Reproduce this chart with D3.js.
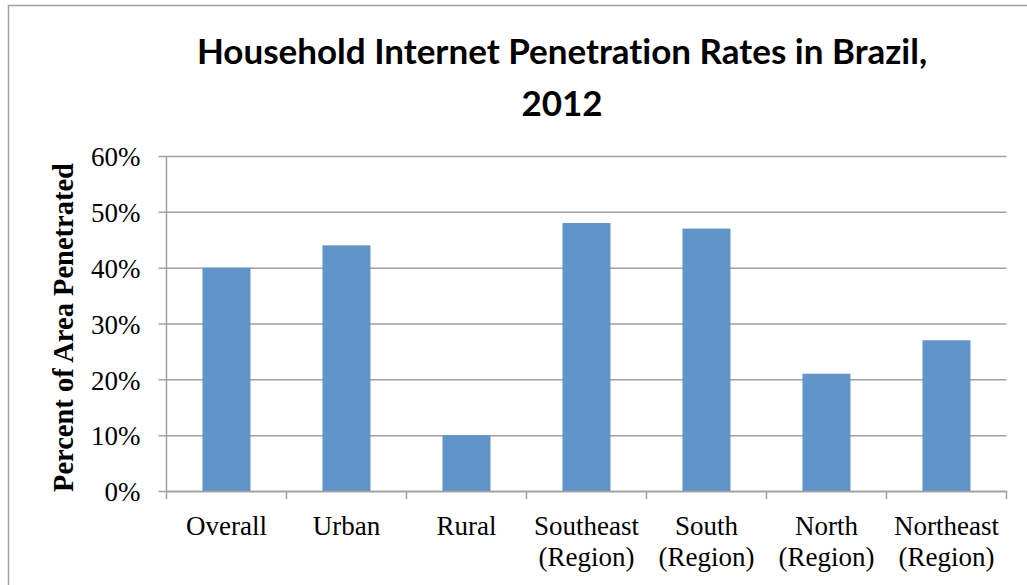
<!DOCTYPE html>
<html>
<head>
<meta charset="utf-8">
<script src="https://cdn.jsdelivr.net/npm/d3@7"></script>
<style>
  body { margin: 0; background: #fff; }
</style>
</head>
<body>
<div class="canvas"></div>
<script>
// chart data
const categories = ['Overall', 'Urban', 'Rural', 'Southeast\n(Region)', 'South\n(Region)', 'North\n(Region)', 'Northeast\n(Region)'];
const values = [0.40, 0.44, 0.10, 0.48, 0.47, 0.21, 0.27];
const yTicks = [0, 0.1, 0.2, 0.3, 0.4, 0.5, 0.6];
const titleLines = ['Household Internet Penetration Rates in Brazil,', '2012'];
const yTitle = 'Percent of Area Penetrated';

const dims = { width: 1027, height: 585 };
const plot = { left: 166.5, top: 156, right: 1006.5, bottom: 491 };

const gridColor = '#a0a0a0';
const serif = '"Liberation Serif", "Times New Roman", serif';

const svg = d3.select('.canvas')
  .append('svg')
  .attr('width', dims.width)
  .attr('height', dims.height);

// outer frame (runs off the right / bottom edge like the source)
svg.append('rect')
  .attr('x', 8.5).attr('y', 5.5)
  .attr('width', 1040).attr('height', 620)
  .attr('fill', '#fff')
  .attr('stroke', gridColor)
  .attr('stroke-width', 1.5);

const x = d3.scaleBand()
  .domain(categories)
  .range([plot.left, plot.right])
  .paddingInner(0.6)
  .paddingOuter(0.3);

const y = d3.scaleLinear()
  .domain([0, 0.6])
  .range([plot.bottom, plot.top]);

// y axis + gridlines
const yAxis = svg.append('g')
  .attr('transform', `translate(${plot.left},0)`)
  .call(d3.axisLeft(y).tickValues(yTicks).tickFormat(d3.format('.0%')).tickSize(8).tickPadding(18));

yAxis.select('.domain').remove();
yAxis.selectAll('.tick line')
  .attr('x1', plot.right - plot.left)
  .attr('stroke', gridColor)
  .attr('stroke-width', 1.5);
yAxis.selectAll('.tick text')
  .attr('font-family', serif)
  .attr('font-size', 27)
  .attr('fill', '#000')
  .attr('dy', '0.36em');

svg.append('line')
  .attr('x1', plot.left).attr('x2', plot.left)
  .attr('y1', plot.top).attr('y2', plot.bottom)
  .attr('stroke', gridColor).attr('stroke-width', 1.5);

// bars
svg.append('g')
  .selectAll('rect')
  .data(values)
  .enter()
  .append('rect')
  .attr('x', (d, i) => x(categories[i]))
  .attr('width', x.bandwidth())
  .attr('y', d => y(d))
  .attr('height', d => y(0) - y(d))
  .attr('fill', '#6194c9');

// x axis: line, boundary ticks, labels
const xAxis = svg.append('g')
  .attr('transform', `translate(0,${plot.bottom})`)
  .call(d3.axisBottom(x).tickSize(0).tickPadding(0));

xAxis.select('.domain')
  .attr('stroke', gridColor)
  .attr('stroke-width', 1.5);

const gap = (x.step() - x.bandwidth()) / 2;
const bounds = categories.map(c => x(c) - gap).concat([plot.right]);
xAxis.selectAll('.bound')
  .data(bounds)
  .enter()
  .append('line')
  .attr('class', 'bound')
  .attr('x1', d => d).attr('x2', d => d)
  .attr('y1', 0).attr('y2', 8)
  .attr('stroke', gridColor)
  .attr('stroke-width', 1.5);

xAxis.selectAll('.tick text')
  .attr('font-family', serif)
  .attr('font-size', 27)
  .attr('fill', '#000')
  .attr('dy', null)
  .attr('y', 0)
  .text(null)
  .each(function(d) {
    const t = d3.select(this);
    d.split('\n').forEach((line, i) => {
      t.append('tspan')
        .attr('x', 0)
        .attr('y', 44 + i * 31)
        .text(line);
    });
  });

// y axis title
svg.append('text')
  .attr('transform', `translate(73,${(plot.top + plot.bottom) / 2 + 4}) rotate(-90)`)
  .attr('text-anchor', 'middle')
  .attr('font-family', serif)
  .attr('font-weight', 'bold')
  .attr('font-size', 28.5)
  .attr('fill', '#000')
  .text(yTitle);

// chart title
const title = svg.append('text')
  .attr('text-anchor', 'middle')
  .attr('font-family', 'Lato, "Open Sans", sans-serif')
  .attr('font-weight', 'bold')
  .attr('font-size', 35)
  .style('font-variant-ligatures', 'none')
  .attr('fill', '#000');

titleLines.forEach((line, i) => {
  title.append('tspan')
    .attr('x', 562)
    .attr('y', 64 + i * 52)
    .text(line);
});
</script>
</body>
</html>
